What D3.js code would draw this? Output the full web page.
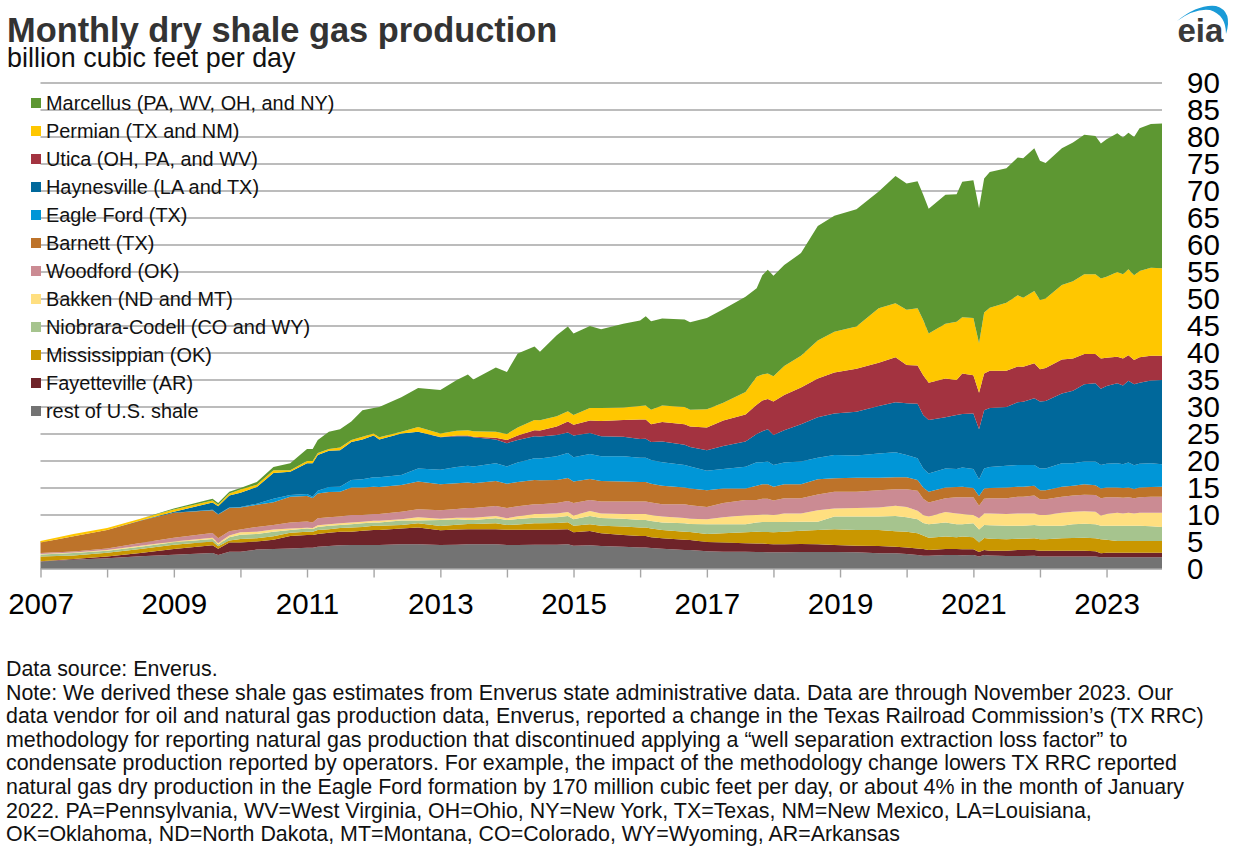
<!DOCTYPE html>
<html lang="en">
<head>
<meta charset="UTF-8">
<title>Monthly dry shale gas production</title>
<script src="https://d3js.org/d3.v7.min.js"></script>
<style>
    body { margin: 0; background: #fff; }
    svg { display: block; font-family: "Liberation Sans", Arial, sans-serif; }
    .grid { stroke: #a6a6a6; stroke-width: 1.4; }
    .axis path, .axis line { stroke: #a6a6a6; stroke-width: 1.4; }
    .axis text { font-size: 29.5px; fill: #000; font-family: "Liberation Sans", Arial, sans-serif; }
    .legend text { font-size: 19.9px; fill: #111; }
    .notes text { font-size: 21.4px; fill: #111; }
</style>
</head>
<body>
<div id="chart"></div>
<script>
const months = ["2007-01","2007-07","2008-01","2008-07","2009-01","2009-08","2009-09","2009-11","2010-01","2010-04",
    "2010-07","2010-10","2011-01","2011-02","2011-03","2011-05","2011-07","2011-09","2011-11","2012-01",
    "2012-02","2012-06","2012-09","2013-01","2013-04","2013-06","2013-07","2013-11","2014-01","2014-03",
    "2014-06","2014-07","2014-10","2014-12","2015-01","2015-04","2015-06","2015-10","2016-01","2016-02",
    "2016-03","2016-05","2016-09","2016-10","2017-01","2017-04","2017-08","2017-10","2017-11","2017-12",
    "2018-01","2018-03","2018-06","2018-09","2018-12","2019-04","2019-08","2019-11","2020-01","2020-03",
    "2020-04","2020-05","2020-08","2020-10","2020-11","2021-01","2021-02","2021-03","2021-04","2021-07",
    "2021-09","2021-10","2021-12","2022-01","2022-02","2022-05","2022-07","2022-09","2022-11","2022-12",
    "2023-01","2023-03","2023-04","2023-05","2023-06","2023-07","2023-09","2023-11"];

const rest = [1.4,1.73,2,2.35,2.65,2.96,2.6,3.2,3.2,3.6,
    3.7,3.8,3.95,3.95,4.1,4.26,4.4,4.45,4.45,4.45,
    4.45,4.6,4.6,4.44,4.5,4.57,4.57,4.57,4.44,4.45,
    4.5,4.5,4.5,4.57,4.3,4.4,4.26,4.1,4,4,
    3.9,3.77,3.5,3.5,3.27,3.2,3.2,3.15,3.15,3.1,
    3.1,3.1,3.15,3.15,3.15,3.1,2.9,2.9,2.8,2.6,
    2.47,2.47,2.6,2.6,2.55,2.6,2.3,2.6,2.5,2.4,
    2.4,2.4,2.45,2.3,2.3,2.3,2.3,2.3,2.3,2.16,
    2.16,2.16,2.16,2.16,2.16,2.16,2.16,2.16];
const fayetteville = [.05,.12,.3,.6,1.05,1.44,1.15,1.7,1.7,1.5,
    1.7,2.3,2.35,2.35,2.4,2.44,2.5,2.45,2.65,2.75,
    2.75,2.9,3.1,2.72,2.8,2.78,2.78,2.78,2.84,2.8,
    2.78,2.78,2.8,2.78,2.5,2.64,2.34,2.2,2.1,2.1,
    2,1.91,1.9,1.85,1.73,1.7,1.55,1.55,1.55,1.55,
    1.5,1.5,1.48,1.45,1.29,1.2,1.36,1.2,1.2,1.2,
    1.23,1.03,1.1,1.1,1.1,1.05,.85,.9,.9,1,
    1.1,1.1,1.05,1.1,1.1,1.1,1.1,1.1,1,.74,
    .84,.84,.84,.84,.84,.84,.84,.84];
const mississippian = [.85,.65,.7,.75,.8,.7,.45,.4,.65,.6,
    .65,.6,.6,.6,.7,.65,.7,.8,.7,.8,
    .8,.65,.76,.8,.9,.98,.98,1.1,.87,1,
    1.17,1.17,1.2,1.29,1.2,1.23,1.4,1.55,1.6,1.6,
    1.6,1.52,1.5,1.5,1.5,1.7,2.05,2.2,2.15,2.2,
    2.2,2.3,2.47,2.6,2.91,2.9,2.94,2.9,2.9,2.8,
    2.5,2.3,2.3,2.2,2.35,2.25,1.75,2.24,2.2,2.1,
    2.1,2.1,2.2,2.1,2.1,2.3,2.35,2.4,2.4,2.6,
    2.4,2.2,2.2,2.2,2.2,2.2,2.2,2.2];
const niobrara = [.4,.45,.4,.4,.45,.45,.35,.6,.8,.8,
    .85,.5,.6,.5,.6,.65,.55,.6,.66,.6,
    .6,.85,.54,1.11,1,.74,.74,.93,.92,1,
    1.05,1.05,1.1,1.16,1.2,1.53,1.44,1.45,1.37,1.37,
    1.4,1.4,1.56,1.5,1.77,1.67,1.47,1.7,1.85,1.85,
    1.9,1.8,1.67,1.57,2.35,2.5,2.5,2.8,2.7,2.6,
    2.3,2.5,2.6,2.4,2.3,2.55,2.4,2.41,2.5,2.5,
    2.4,2.4,2.45,2.5,2.5,2.3,2.55,2.6,2.6,2.5,
    2.6,2.8,2.8,2.8,2.8,2.8,2.7,2.6];
const bakken = [.1,.1,.1,.2,.15,.25,.25,.3,.45,.4,
    .4,.3,.15,.2,.3,.3,.31,.3,.31,.35,
    .35,.2,.57,.23,.3,.43,.43,.42,.33,.5,
    .7,.7,.7,.75,.7,.94,.86,.9,1.13,1.13,
    1.1,1.1,.98,.95,.93,1.3,1.67,1.4,1.4,1.4,
    1.3,1.6,1.53,2.13,1.5,1.6,1.7,1.9,1.9,1.6,
    1.5,1.4,1.95,2,1.9,1.55,2.1,2.15,2.2,2.2,
    2.3,2.3,2.15,2,2,2.4,2.3,2.3,2.3,1.9,
    2.2,2.4,2.3,2.4,2.3,2.4,2.5,2.6];
const woodford = [.15,.2,.3,.5,.7,.87,.9,.8,.5,.9,
    .85,1.1,1.15,1,1.3,1.3,1.24,1.4,1.23,1.25,
    1.25,1.4,1.48,1.6,1.6,1.8,1.8,1.87,1.9,1.85,
    1.8,1.8,1.9,2.05,2.3,2.06,2.2,2.3,2.3,2.3,
    2.3,2.3,2.56,2.5,2.3,2.63,2.86,2.8,2.9,2.9,
    2.7,2.8,2.8,2.9,3.1,3,3.2,3.05,3.25,3.7,
    3,2.6,2.55,3,3.1,3.3,2.3,2.7,2.8,2.9,
    3.1,3.1,3.3,2.9,2.9,3,3,3.05,3.1,3.2,
    3.1,2.9,2.9,2.9,2.8,2.9,3,3];
const barnett = [1.95,2.8,3.4,4.15,4.6,4.23,4.4,4.3,4.1,4.1,
    4.2,4.8,4.7,4.55,4.6,4.66,4.6,5.1,5.1,5.05,
    5,4.95,5.15,4.8,4.8,4.7,4.6,4.63,4.5,4.5,
    4.5,4.45,4.3,4.25,4,3.87,3.8,3.7,3.6,3.6,
    3.5,3.4,3.1,3.1,3.1,2.7,2.1,2.6,2.7,2.7,
    2.55,2.6,2.6,2.8,2.5,2.6,2.3,2.25,2.25,2,
    2.1,2,2,1.9,1.95,1.7,1.8,1.9,1.9,2,
    1.85,1.85,1.8,1.7,1.7,1.85,1.8,1.95,1.8,1.8,
    1.8,1.8,1.8,1.8,1.7,1.8,1.8,1.85];
const eagleFord = [0,0,0,0,0,.05,.05,.1,.1,.2,
    .65,.3,.4,.25,.5,.94,.95,1.4,1.5,1.75,
    1.8,1.85,2.4,2.7,3,3.1,3.1,3.27,3.2,3.6,
    4,4,4.4,4.65,4.5,4.63,4.6,4.7,4.5,4.5,
    4.4,4.35,4.16,4.1,3.6,3.6,4.05,4.35,4.05,4.2,
    4.01,4,4.2,4,4.3,4.1,4.5,4.6,4.1,4,
    3.5,3.4,3.5,3.3,3.55,3.5,3.1,3.7,3.9,4,
    4.01,4,3.86,4,4,4.35,4.2,4.2,4.4,4.36,
    4.4,4.5,4.4,4.6,4.4,4.4,4.4,4.15];
const haynesville = [.02,.02,.02,.03,.2,1.35,1.45,2.2,2.6,3.1,
    4.8,4.3,5.7,6.2,6.6,6.7,6.75,7,7.4,7.7,
    7,7.7,6.8,6,5.7,5.5,5.4,4.43,4.3,4.2,
    4.1,4.1,3.9,3.8,4,3.9,3.7,3.6,3.47,3.5,
    3.3,3.85,3.74,3.6,3.8,4.3,4.65,5.25,5.75,6,
    5.54,6,6.9,7.5,7.7,8.1,8.8,9.3,9.6,10.1,
    9.9,9.9,9.5,10,9.9,10.3,9.3,10.8,10.9,10.9,
    11.64,11.7,12.34,12.4,12.5,12.9,13.4,14.3,14.5,14.14,
    14.4,14.8,14.6,15.15,15,15,15.3,15.6];
const utica = [0,0,0,0,0,0,0,0,0,0,
    0,0,0,0,0,0,0,0,0,0,
    0,0,0,.05,.1,.1,.1,.3,.6,.8,
    1.1,1.1,1.6,2,2,2.3,2.8,3.1,3.63,3.6,
    3.3,3.6,3.8,3.8,4.2,4.7,5,5.4,5.7,5.6,
    6.2,6.5,6.8,7.2,7.6,8,8,8.3,7.1,7.1,
    7.4,6.9,7.2,6.5,7.5,7.1,6.75,6.8,6.9,6.7,
    6.6,6.5,6.5,6,6.1,6.3,6,5.6,5.4,5.6,
    5.2,4.9,5,4.75,4.5,4.7,4.6,4.5];
const permian = [.28,.43,.38,.32,.4,.4,.3,.4,.6,.4,
    .5,.3,.4,.4,.4,.3,.5,.4,.5,.4,
    .4,.3,.9,.65,.9,1,1,1.1,1.1,1.5,
    1.9,1.9,1.9,1.9,1.8,2.3,2.4,2.3,2.5,2.6,
    2.7,3.1,3.2,3.1,3.4,3.3,4.2,5.2,4.8,4.7,
    4.7,5.4,5.9,7,7.55,7.8,10.1,10,10.2,10.6,
    10.2,9.1,10.1,10.8,10.4,10.6,9.15,11.3,11.7,12.6,
    13.2,12.8,13.4,12.8,12.9,13.8,14.3,14.8,14.8,14.8,
    15,15.7,15.6,15.9,15.7,16,16.3,16.2];
const marcellus = [0,0,0,.02,.2,.3,.3,.3,.3,.5,
    .6,1.3,2.2,2.2,2.4,3.2,3.4,3.4,4.9,4.7,
    5.6,6.4,7.2,8.05,9.4,10.3,9.6,11.9,11.5,13.7,
    13.6,12.7,15,15.7,15.1,15.2,14.6,15.5,15.8,16.5,
    16.4,16.1,16.2,16.2,16.9,17.3,17.6,16.4,18.4,19.2,
    18.6,18.7,19,21.2,21.45,21.7,21.6,23.6,23.4,23.5,
    23.2,23.1,23.9,23.6,25.1,25.5,25,24.8,25.1,24.9,
    25.5,25.8,26.4,25.8,25.1,25.3,25.7,25.8,25.6,25,
    25.5,25.7,25.3,25.3,25.6,26.4,26.6,26.8];

// bottom of the stack first
const seriesKeys = ["rest","fayetteville","mississippian","niobrara","bakken","woodford","barnett","eagleFord","haynesville","utica","permian","marcellus"];
const seriesValues = [rest,fayetteville,mississippian,niobrara,bakken,woodford,barnett,eagleFord,haynesville,utica,permian,marcellus];
const seriesColors = ["#737373","#6e2329","#c99700","#a6c48e","#ffdf80","#cb8b93","#bd732a","#0096d7","#00689b","#a33340","#ffc700","#5d9732"];

// legend order is top of the stack first
const legendLabels = ["Marcellus (PA, WV, OH, and NY)","Permian (TX and NM)","Utica (OH, PA, and WV)","Haynesville (LA and TX)","Eagle Ford (TX)","Barnett (TX)","Woodford (OK)","Bakken (ND and MT)","Niobrara-Codell (CO and WY)","Mississippian (OK)","Fayetteville (AR)","rest of U.S. shale"];
const legendColors = ["#5d9732","#ffc700","#a33340","#00689b","#0096d7","#bd732a","#cb8b93","#ffdf80","#a6c48e","#c99700","#6e2329","#737373"];

const yearTicks = d3.range(2007, 2024);
const valueTicks = d3.range(0, 95, 5);

const noteLines = [
    "Data source: Enverus.",
    "Note: We derived these shale gas estimates from Enverus state administrative data. Data are through November 2023. Our",
    "data vendor for oil and natural gas production data, Enverus, reported a change in the Texas Railroad Commission\u2019s (TX RRC)",
    "methodology for reporting natural gas production that discontinued applying a \u201cwell separation extraction loss factor\u201d to",
    "condensate production reported by operators. For example, the impact of the methodology change lowers TX RRC reported",
    "natural gas dry production in the Eagle Ford formation by 170 million cubic feet per day, or about 4% in the month of January",
    "2022. PA=Pennsylvania, WV=West Virginia, OH=Ohio, NY=New York, TX=Texas, NM=New Mexico, LA=Louisiana,",
    "OK=Oklahoma, ND=North Dakota, MT=Montana, CO=Colorado, WY=Wyoming, AR=Arkansas"
];

const width = 1236, height = 855;
const svg = d3.select("#chart").append("svg").attr("width", width).attr("height", height);

const parseMonth = d3.utcParse("%Y-%m");
const table = months.map((m, i) => {
    const row = { date: parseMonth(m) };
    seriesKeys.forEach((k, j) => { row[k] = seriesValues[j][i]; });
    return row;
});

const x = d3.scaleUtc().domain([parseMonth("2007-01"), parseMonth("2023-11")]).range([40.5, 1162]);
const y = d3.scaleLinear().domain([0, 90]).range([569, 83]);

// gridlines sit behind the areas
svg.append("g").selectAll("line")
    .data(valueTicks.filter(d => d > 0))
    .enter().append("line")
    .attr("class", "grid")
    .attr("x1", 40.5).attr("x2", 1162)
    .attr("y1", d => y(d)).attr("y2", d => y(d));

const stacked = d3.stack().keys(seriesKeys)(table);
const area = d3.area()
    .x(d => x(d.data.date))
    .y0(d => y(d[0]))
    .y1(d => y(d[1]));

svg.append("g").selectAll("path")
    .data(stacked)
    .enter().append("path")
    .attr("fill", (d, i) => seriesColors[i])
    .attr("d", area);

// x axis, a tick every year and a label every other year
const xAxis = d3.axisBottom(x)
    .tickValues(yearTicks.map(d => new Date(Date.UTC(d, 0, 1))))
    .tickSize(8.5).tickPadding(16)
    .tickFormat(d => d.getUTCFullYear() % 2 === 1 ? d.getUTCFullYear() : "");
svg.append("g").attr("class", "axis")
    .attr("transform", `translate(0,${y(0)})`)
    .call(xAxis)
    .call(g => g.select(".domain").attr("d", "M40.5,0H1162"));

// y axis labels only, left aligned
const yAxis = d3.axisRight(y).tickValues(valueTicks).tickSize(0).tickPadding(25);
svg.append("g").attr("class", "axis")
    .attr("transform", "translate(1162,0)")
    .call(yAxis)
    .call(g => g.select(".domain").remove());

// title block
svg.append("text").attr("x", 7).attr("y", 42)
    .attr("font-size", 34.4).attr("font-weight", "bold").attr("fill", "#333")
    .text("Monthly dry shale gas production");
svg.append("text").attr("x", 7).attr("y", 67)
    .attr("font-size", 26.9).attr("fill", "#111")
    .text("billion cubic feet per day");

// legend
const legend = svg.append("g").attr("class", "legend");
const rows = legend.selectAll("g").data(legendLabels).enter().append("g")
    .attr("transform", (d, i) => `translate(31,${103 + i * 28})`);
rows.append("rect").attr("y", -5).attr("width", 10).attr("height", 10)
    .attr("fill", (d, i) => legendColors[i]);
rows.append("text").attr("x", 15).attr("y", 6.5).text(d => d);

// footnotes
svg.append("g").attr("class", "notes").selectAll("text")
    .data(noteLines).enter().append("text")
    .attr("x", 6)
    .attr("y", (d, i) => 676 + i * 23.6)
    .text(d => d);

// eia logo
const logo = svg.append("g");
logo.append("path").attr("fill", "#1a9bd7")
    .attr("d", "M1177,21 Q1198,4 1216,6 Q1233,11 1226,34 Q1226,15 1210,10 Q1195,8 1177,21 Z");
logo.append("text").attr("x", 1177.5).attr("y", 42)
    .attr("font-size", 33).attr("font-weight", "bold").attr("fill", "#3a3a3a")
    .text("eia");
</script>
</body>
</html>
